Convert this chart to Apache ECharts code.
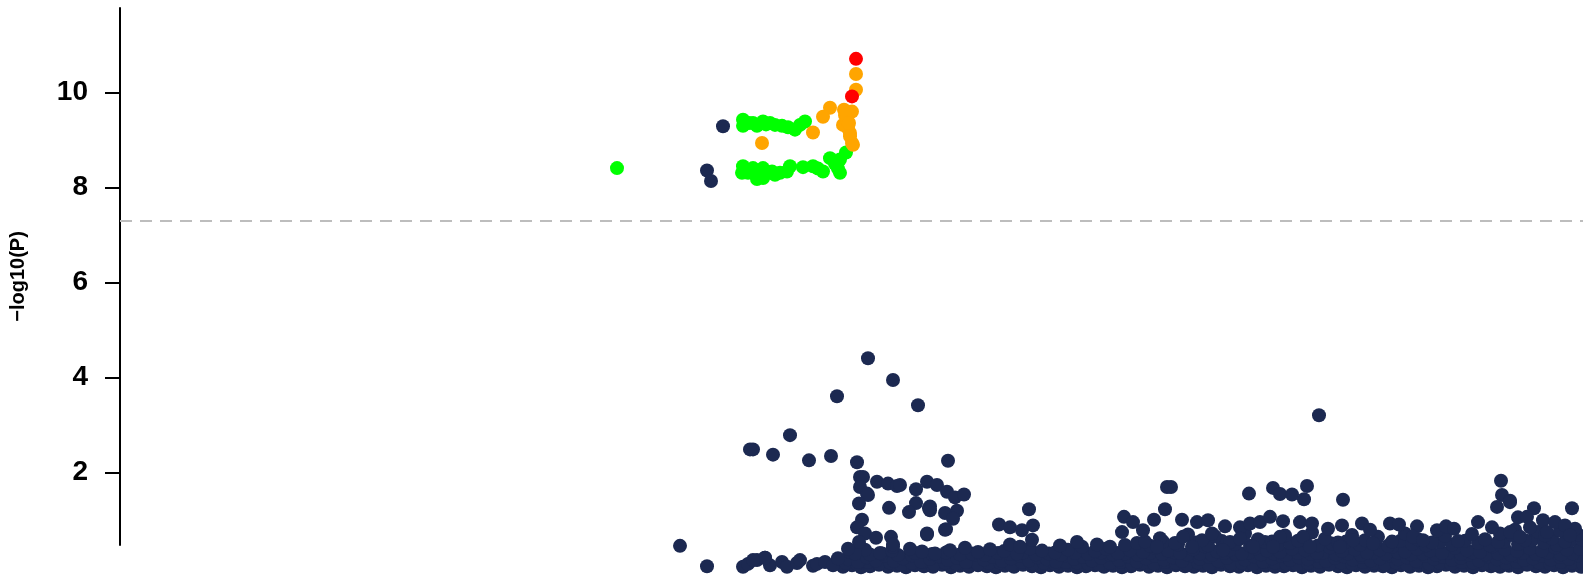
<!DOCTYPE html>
<html>
<head>
<meta charset="utf-8">
<script src="https://cdn.jsdelivr.net/npm/echarts@6/dist/echarts.min.js"></script>
<style>
html,body{margin:0;padding:0;background:#fff;}
#chart{width:1583px;height:581px;}
</style>
</head>
<body>
<div id="chart"></div>
<script>
// ---- data: [position (kb, relative), -log10(P)] ----
const yTicks = [2, 4, 6, 8, 10];
const threshold = 7.3;
const posRange = [0, 1463];
const logpRange = [0.478, 11.78];

const redPoints = [[736, 10.71], [732, 9.92]];

const orangePoints = [
  [736, 10.39], [736, 10.06], [710, 9.68], [703, 9.49], [693, 9.16], [642, 8.94],
  [732, 9.60], [725, 9.53], [723, 9.32], [728, 9.25], [730, 9.08], [732, 8.94],
  [733, 8.90], [727, 9.43], [730, 9.15], [724, 9.64], [729, 9.36]
];

const greenPoints = [
  [497, 8.41],
  [623, 9.43], [623, 9.30], [633, 9.36], [643, 9.39], [655, 9.32], [662, 9.30],
  [668, 9.27], [675, 9.22], [680, 9.32], [685, 9.39], [637, 9.30], [650, 9.36],
  [629, 9.36], [646, 9.33],
  [623, 8.45], [622, 8.31], [633, 8.41], [643, 8.41], [643, 8.20], [652, 8.34],
  [660, 8.31], [670, 8.45], [683, 8.43], [693, 8.45], [703, 8.34], [710, 8.62],
  [720, 8.59], [720, 8.31], [726, 8.74], [628, 8.31], [637, 8.34], [655, 8.27],
  [667, 8.34], [647, 8.30], [698, 8.40], [715, 8.50], [718, 8.40], [637, 8.18]
];

const navyUpper = [
  [603, 9.29], [587, 8.36], [591, 8.14],
  [748, 4.41], [773, 3.95], [717, 3.61], [798, 3.42], [670, 2.79], [633, 2.49],
  [630, 2.49], [653, 2.38], [689, 2.26], [711, 2.35], [737, 2.22], [828, 2.25],
  [1199, 3.21]
];

const navyMid = [
  [740, 1.91], [743, 1.91], [740, 1.70], [757, 1.81], [768, 1.77], [777, 1.72],
  [747, 1.56], [748, 1.53], [739, 1.35], [769, 1.26], [742, 1.01], [737, 0.85],
  [745, 0.72], [756, 0.63], [771, 0.65], [739, 0.54], [728, 0.40], [773, 0.44],
  [773, 0.49], [560, 0.46], [587, 0.03], [645, 0.21], [633, 0.16],
  [780, 1.74], [796, 1.65], [807, 1.81], [817, 1.74], [827, 1.60], [835, 1.48],
  [844, 1.54], [796, 1.36], [789, 1.17], [809, 1.25], [825, 1.15], [837, 1.20],
  [833, 1.03], [810, 1.29], [810, 1.21], [807, 0.70], [825, 0.80], [826, 0.81],
  [807, 0.72],
  [909, 1.23], [879, 0.91], [890, 0.85], [902, 0.79], [913, 0.89], [912, 0.59],
  [890, 0.49], [900, 0.44], [1004, 1.07], [1013, 0.96], [1002, 0.75], [940, 0.47],
  [957, 0.54], [977, 0.49], [990, 0.44],
  [1047, 1.70], [1051, 1.70], [1129, 1.56], [1153, 1.68], [1160, 1.55], [1172, 1.54],
  [1187, 1.72], [1184, 1.44], [1223, 1.43], [1045, 1.23], [1034, 1.01], [1062, 1.01],
  [1077, 0.96], [1088, 1.00], [1105, 0.87], [1120, 0.85], [1130, 0.93], [1140, 0.96],
  [1150, 1.07], [1163, 0.98], [1180, 0.96], [1192, 0.93], [1208, 0.82], [1222, 0.89],
  [1242, 0.93], [1250, 0.80], [1023, 0.79], [1063, 0.65], [1092, 0.72], [1120, 0.61],
  [1160, 0.65], [1183, 0.65], [1233, 0.58], [1103, 0.37], [1133, 0.44], [1153, 0.44],
  [1072, 0.44], [1037, 0.44], [1190, 0.44], [1220, 0.44], [1253, 0.51],
  [1381, 1.83], [1382, 1.53], [1390, 1.41], [1377, 1.28], [1414, 1.25], [1452, 1.25],
  [1398, 1.06], [1407, 1.07], [1358, 0.96], [1270, 0.93], [1279, 0.91], [1297, 0.87],
  [1317, 0.79], [1326, 0.87], [1334, 0.82], [1372, 0.85], [1423, 1.00], [1435, 0.96],
  [1445, 0.89], [1293, 0.65], [1303, 0.58], [1390, 0.75], [1400, 0.65], [1427, 0.75],
  [1450, 0.68], [1390, 1.38]
];

const navyLowSparse = [
  [623, 0.02], [628, 0.08], [637, 0.16], [645, 0.21], [650, 0.05], [662, 0.12],
  [667, 0.02], [677, 0.10], [680, 0.16], [693, 0.04], [697, 0.08], [705, 0.12],
  [713, 0.05], [718, 0.20], [735, 0.30]
];

const navyRowA = [
  [723, 0.02], [732, 0.05], [741, 0.01], [750, 0.03], [759, 0.06], [768, 0.02],
  [777, 0.04], [786, 0.01], [795, 0.05], [804, 0.03], [813, 0.02], [822, 0.06],
  [831, 0.01], [840, 0.04], [849, 0.02], [858, 0.05], [867, 0.03], [876, 0.01],
  [885, 0.04], [894, 0.02], [903, 0.06], [912, 0.03], [921, 0.01], [930, 0.05],
  [939, 0.02], [948, 0.04], [957, 0.01], [966, 0.03], [975, 0.05], [984, 0.02],
  [993, 0.04], [1002, 0.01], [1011, 0.03], [1020, 0.06], [1029, 0.02], [1038, 0.04],
  [1047, 0.01], [1056, 0.05], [1065, 0.03], [1074, 0.02], [1083, 0.04], [1092, 0.01],
  [1101, 0.06], [1110, 0.03], [1119, 0.02], [1128, 0.05], [1137, 0.01], [1146, 0.04],
  [1155, 0.02], [1164, 0.03], [1173, 0.05], [1182, 0.01], [1191, 0.04], [1200, 0.02],
  [1209, 0.06], [1218, 0.03], [1227, 0.01], [1236, 0.05], [1245, 0.02], [1254, 0.04],
  [1263, 0.03], [1272, 0.01], [1281, 0.05], [1290, 0.02], [1299, 0.04], [1308, 0.01],
  [1317, 0.03], [1326, 0.06], [1335, 0.02], [1344, 0.04], [1353, 0.01], [1362, 0.05],
  [1371, 0.03], [1380, 0.02], [1389, 0.04], [1398, 0.01], [1407, 0.06], [1416, 0.03],
  [1425, 0.02], [1434, 0.05], [1443, 0.01], [1452, 0.04], [1461, 0.02]
];

const navyRowE = [
  [726, 0.10], [737, 0.08], [748, 0.12], [759, 0.09], [770, 0.11], [781, 0.07],
  [792, 0.10], [803, 0.12], [814, 0.08], [825, 0.11], [836, 0.09], [847, 0.12],
  [858, 0.08], [869, 0.10], [880, 0.11], [891, 0.07], [902, 0.12], [913, 0.09],
  [924, 0.10], [935, 0.08], [946, 0.12], [957, 0.11], [968, 0.09], [979, 0.07],
  [990, 0.10], [1001, 0.12], [1012, 0.08], [1023, 0.11], [1034, 0.09], [1045, 0.12],
  [1056, 0.10], [1067, 0.08], [1078, 0.11], [1089, 0.07], [1100, 0.12], [1111, 0.09],
  [1122, 0.10], [1133, 0.08], [1144, 0.12], [1155, 0.11], [1166, 0.09], [1177, 0.07],
  [1188, 0.10], [1199, 0.12], [1210, 0.08], [1221, 0.11], [1232, 0.09], [1243, 0.12],
  [1254, 0.10], [1265, 0.08], [1276, 0.11], [1287, 0.07], [1298, 0.12], [1309, 0.09],
  [1320, 0.10], [1331, 0.08], [1342, 0.12], [1353, 0.11], [1364, 0.09], [1375, 0.07],
  [1386, 0.10], [1397, 0.12], [1408, 0.08], [1419, 0.11], [1430, 0.09], [1441, 0.12],
  [1452, 0.10], [1463, 0.08]
];

const navyRowB = [
  [728, 0.18], [738, 0.12], [747, 0.22], [756, 0.15], [765, 0.25], [774, 0.14],
  [783, 0.20], [792, 0.26], [801, 0.13], [810, 0.19], [819, 0.24], [828, 0.16],
  [837, 0.21], [846, 0.12], [855, 0.27], [864, 0.17], [873, 0.23], [882, 0.14],
  [891, 0.20], [900, 0.25], [909, 0.15], [918, 0.22], [927, 0.18], [936, 0.13],
  [945, 0.26], [954, 0.19], [963, 0.23], [972, 0.15], [981, 0.21], [990, 0.27],
  [999, 0.16], [1008, 0.24], [1017, 0.13], [1026, 0.20], [1035, 0.25], [1044, 0.17],
  [1053, 0.22], [1062, 0.14], [1071, 0.26], [1080, 0.19], [1089, 0.23], [1098, 0.15],
  [1107, 0.21], [1116, 0.27], [1125, 0.17], [1134, 0.24], [1143, 0.13], [1152, 0.20],
  [1161, 0.25], [1170, 0.16], [1179, 0.22], [1188, 0.18], [1197, 0.26], [1206, 0.14],
  [1215, 0.21], [1224, 0.24], [1233, 0.17], [1242, 0.23], [1251, 0.15], [1260, 0.20],
  [1269, 0.26], [1278, 0.18], [1287, 0.22], [1296, 0.14], [1305, 0.25], [1314, 0.19],
  [1323, 0.23], [1332, 0.16], [1341, 0.21], [1350, 0.27], [1359, 0.15], [1368, 0.24],
  [1377, 0.18], [1386, 0.22], [1395, 0.26], [1404, 0.16], [1413, 0.20], [1422, 0.25],
  [1431, 0.17], [1440, 0.23], [1449, 0.19], [1458, 0.26]
];

const navyRowF = [
  [750, 0.28], [762, 0.30], [778, 0.27], [795, 0.31], [812, 0.29], [826, 0.32],
  [840, 0.28], [852, 0.30], [865, 0.27], [878, 0.31], [890, 0.29], [903, 0.32],
  [916, 0.28], [929, 0.30], [941, 0.27], [955, 0.31], [968, 0.29], [981, 0.32],
  [993, 0.28], [1005, 0.30], [1018, 0.27], [1030, 0.31], [1042, 0.29], [1055, 0.32],
  [1067, 0.28], [1080, 0.30], [1092, 0.27], [1104, 0.31], [1116, 0.29], [1129, 0.32],
  [1141, 0.28], [1154, 0.30], [1166, 0.27], [1178, 0.31], [1191, 0.29], [1203, 0.32],
  [1216, 0.28], [1228, 0.30], [1241, 0.27], [1253, 0.31], [1266, 0.29], [1278, 0.32],
  [1291, 0.28], [1303, 0.30], [1316, 0.27], [1328, 0.31], [1341, 0.29], [1353, 0.32],
  [1366, 0.28], [1378, 0.30], [1391, 0.27], [1403, 0.31], [1416, 0.29], [1428, 0.32],
  [1441, 0.28], [1453, 0.30]
];

const navyRowC = [
  [730, 0.33], [745, 0.38], [760, 0.31], [772, 0.36], [790, 0.40], [802, 0.34],
  [815, 0.30], [830, 0.37], [845, 0.42], [858, 0.33], [870, 0.39], [884, 0.35],
  [897, 0.30], [910, 0.41], [922, 0.36], [935, 0.32], [948, 0.38], [962, 0.44],
  [975, 0.35], [986, 0.40], [998, 0.31], [1010, 0.37], [1023, 0.33], [1035, 0.42],
  [1048, 0.36], [1060, 0.31], [1073, 0.39], [1085, 0.45], [1097, 0.34], [1110, 0.38],
  [1122, 0.30], [1135, 0.41], [1147, 0.36], [1160, 0.33], [1172, 0.40], [1185, 0.37],
  [1197, 0.31], [1210, 0.43], [1222, 0.35], [1235, 0.39], [1247, 0.32], [1260, 0.38],
  [1272, 0.44], [1285, 0.34], [1297, 0.40], [1310, 0.36], [1322, 0.31], [1335, 0.42],
  [1347, 0.37], [1360, 0.33], [1372, 0.45], [1385, 0.39], [1397, 0.35], [1410, 0.41],
  [1422, 0.36], [1435, 0.43], [1447, 0.38], [1460, 0.40]
];

const navyRowG = [
  [1005, 0.48], [1017, 0.52], [1030, 0.46], [1043, 0.55], [1058, 0.49], [1075, 0.53],
  [1088, 0.47], [1102, 0.56], [1115, 0.50], [1130, 0.46], [1145, 0.54], [1158, 0.48],
  [1170, 0.52], [1185, 0.57], [1198, 0.47], [1212, 0.51], [1226, 0.55], [1240, 0.48],
  [1255, 0.53], [1268, 0.46], [1280, 0.56], [1292, 0.50], [1306, 0.47], [1320, 0.54],
  [1332, 0.49], [1345, 0.57], [1358, 0.52], [1370, 0.47], [1384, 0.55], [1398, 0.50],
  [1412, 0.58], [1424, 0.53], [1437, 0.48], [1450, 0.56], [1462, 0.60]
];

const navyRowD = [
  [1025, 0.55], [1040, 0.62], [1055, 0.52], [1068, 0.70], [1082, 0.58], [1095, 0.66],
  [1110, 0.54], [1125, 0.72], [1138, 0.60], [1152, 0.55], [1165, 0.68], [1178, 0.57],
  [1192, 0.74], [1205, 0.61], [1218, 0.53], [1232, 0.69], [1245, 0.58], [1258, 0.65],
  [1272, 0.55], [1285, 0.72], [1298, 0.60], [1312, 0.53], [1325, 0.67], [1338, 0.56],
  [1352, 0.71], [1365, 0.60], [1378, 0.54], [1392, 0.69], [1405, 0.58], [1418, 0.75],
  [1432, 0.62], [1445, 0.55], [1458, 0.70], [1380, 0.72], [1395, 0.80], [1410, 0.85],
  [1425, 0.68], [1440, 0.78], [1455, 0.82]
];

// ---- chart ----
const navy = '#1c2951';
const navyAll = [].concat(navyRowA, navyRowE, navyRowB, navyRowF, navyRowC, navyRowG,
  navyRowD, navyLowSparse, navyMid, navyUpper);

function scatter(name, data, color, z) {
  return {
    name: name, type: 'scatter', data: data, symbol: 'circle', symbolSize: 14,
    clip: false, z: z, silent: true, large: false,
    itemStyle: { color: color, opacity: 1 }
  };
}

const chart = echarts.init(document.getElementById('chart'), null, { renderer: 'canvas' });
const font = "'Liberation Sans', Arial, Helvetica, sans-serif";
const navySeries = scatter('navy', navyAll, navy, 2);
navySeries.markLine = {
  silent: true, symbol: 'none', label: { show: false },
  lineStyle: { color: '#bdbdbd', type: [12, 8], width: 2 },
  data: [[{ coord: [posRange[0], threshold] }, { coord: [posRange[1], threshold] }]]
};

chart.setOption({
  animation: false,
  backgroundColor: '#ffffff',
  grid: { left: 119, right: 0, top: 8, bottom: 36, containLabel: false },
  xAxis: {
    type: 'value', min: posRange[0], max: posRange[1], show: false
  },
  yAxis: {
    type: 'value', min: logpRange[0], max: logpRange[1],
    name: '\u2212log10(P)', nameLocation: 'middle', nameGap: 92, nameRotate: 90,
    nameTextStyle: { fontFamily: font, fontWeight: 'bold', fontSize: 20, color: '#000' },
    axisLine: { show: true, lineStyle: { color: '#000', width: 2 } },
    axisTick: { show: true, length: 15, lineStyle: { color: '#000', width: 2 }, customValues: yTicks },
    axisLabel: { customValues: yTicks, margin: 32, fontFamily: font, fontWeight: 'bold', fontSize: 28, color: '#000' },
    splitLine: { show: false }
  },
  series: [
    navySeries,
    scatter('green', greenPoints, '#00ff00', 3),
    scatter('orange', orangePoints, '#ffa500', 4),
    scatter('red', redPoints, '#ff0000', 5)
  ]
});
</script>
</body>
</html>
